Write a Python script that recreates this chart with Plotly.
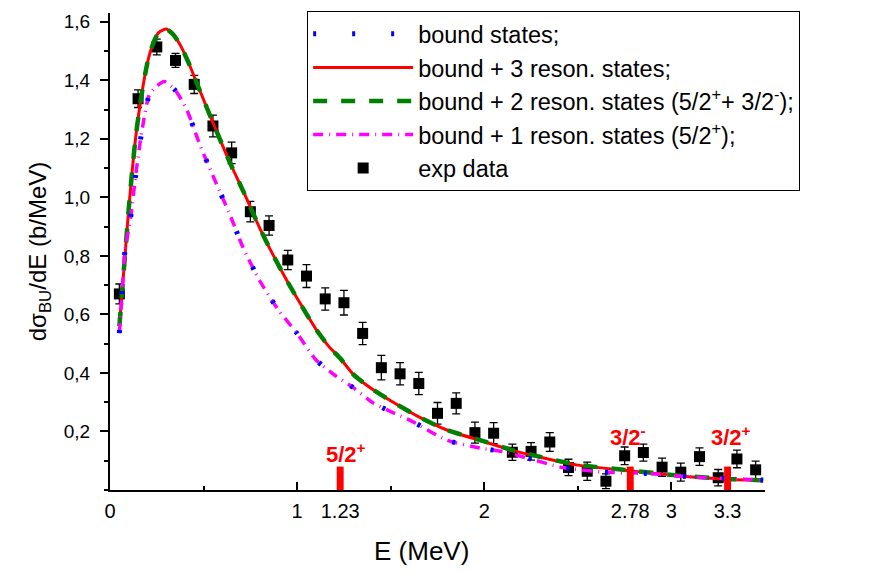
import plotly.graph_objects as go

# ---------------- data ----------------
exp_E = [0.05, 0.15, 0.25, 0.35, 0.45, 0.55, 0.65, 0.75, 0.85, 0.95,
         1.05, 1.15, 1.25, 1.35, 1.45, 1.55, 1.65, 1.75, 1.85, 1.95,
         2.05, 2.15, 2.25, 2.35, 2.45, 2.55, 2.65, 2.75, 2.85, 2.95,
         3.05, 3.15, 3.25, 3.35, 3.45]
exp_sigma = [0.670, 1.337, 1.514, 1.468, 1.386, 1.244, 1.152, 0.951, 0.904, 0.786,
             0.731, 0.653, 0.640, 0.535, 0.418, 0.397, 0.364, 0.262, 0.296, 0.196,
             0.194, 0.129, 0.132, 0.164, 0.077, 0.064, 0.030, 0.117, 0.128, 0.078,
             0.061, 0.114, 0.042, 0.106, 0.069]
exp_err = [0.034, 0.030, 0.027, 0.024, 0.031, 0.037, 0.037, 0.035, 0.033, 0.033,
           0.039, 0.038, 0.042, 0.038, 0.042, 0.038, 0.038, 0.037, 0.036, 0.036,
           0.036, 0.028, 0.030, 0.032, 0.028, 0.031, 0.025, 0.030, 0.029, 0.031,
           0.031, 0.030, 0.028, 0.030, 0.030]

res3_E = [0.055, 0.07, 0.085, 0.10, 0.12, 0.14, 0.17, 0.20, 0.23, 0.26, 0.30, 0.34,
          0.38, 0.42, 0.48, 0.56, 0.64, 0.72, 0.80, 0.87, 0.95, 1.00, 1.10, 1.17,
          1.23, 1.30, 1.40, 1.50, 1.65, 1.80, 2.00, 2.14, 2.30, 2.50, 2.76, 3.03,
          3.30, 3.49]
res3_sigma = [0.60, 0.72, 0.84, 0.96, 1.10, 1.22, 1.355, 1.46, 1.525, 1.563, 1.575, 1.555,
              1.515, 1.46, 1.365, 1.24, 1.12, 1.01, 0.895, 0.805, 0.71, 0.655, 0.55, 0.49,
              0.45, 0.395, 0.345, 0.305, 0.25, 0.205, 0.165, 0.137, 0.112, 0.085, 0.067, 0.049,
              0.037, 0.032]

res2_E = [0.05, 0.07, 0.085, 0.10, 0.12, 0.14, 0.17, 0.20, 0.23, 0.26, 0.30, 0.34,
          0.38, 0.42, 0.48, 0.56, 0.64, 0.72, 0.80, 0.87, 0.95, 1.00, 1.10, 1.17,
          1.23, 1.30, 1.40, 1.50, 1.65, 1.80, 2.00, 2.14, 2.30, 2.50, 2.76, 3.03,
          3.30, 3.49]
res2_sigma = [0.56, 0.72, 0.84, 0.96, 1.10, 1.22, 1.355, 1.46, 1.525, 1.563, 1.575, 1.555,
              1.515, 1.46, 1.365, 1.24, 1.12, 1.01, 0.895, 0.805, 0.71, 0.655, 0.55, 0.49,
              0.45, 0.395, 0.345, 0.305, 0.25, 0.205, 0.166, 0.138, 0.113, 0.086, 0.068, 0.050,
              0.038, 0.033]

res1_E = [0.05, 0.07, 0.08, 0.11, 0.14, 0.17, 0.21, 0.25, 0.29, 0.35, 0.41, 0.48,
          0.57, 0.64, 0.71, 0.80, 0.90, 1.00, 1.10, 1.20, 1.30, 1.40, 1.50, 1.62,
          1.80, 1.98, 2.10, 2.23, 2.41, 2.62, 2.85, 3.12, 3.39, 3.49]
res1_sigma = [0.536, 0.727, 0.817, 0.93, 1.089, 1.226, 1.35, 1.38, 1.396, 1.365, 1.30, 1.18,
              1.044, 0.942, 0.83, 0.715, 0.615, 0.535, 0.445, 0.393, 0.35, 0.30, 0.268, 0.233,
              0.17, 0.143, 0.131, 0.109, 0.078, 0.062, 0.057, 0.044, 0.037, 0.034]

bound_E = [0.05, 0.07, 0.08, 0.11, 0.14, 0.17, 0.21, 0.25, 0.29, 0.35, 0.41, 0.48,
           0.57, 0.64, 0.71, 0.80, 0.90, 1.00, 1.10, 1.20, 1.30, 1.40, 1.50, 1.62,
           1.80, 1.98, 2.10, 2.23, 2.41, 2.62, 2.85, 3.12, 3.39, 3.49]
bound_sigma = [0.536, 0.727, 0.817, 0.93, 1.089, 1.226, 1.35, 1.38, 1.396, 1.365, 1.30, 1.18,
               1.044, 0.942, 0.83, 0.715, 0.615, 0.535, 0.445, 0.393, 0.35, 0.30, 0.268, 0.233,
               0.17, 0.143, 0.131, 0.109, 0.078, 0.062, 0.057, 0.044, 0.037, 0.034]

res_E = [1.23, 2.78, 3.3]
res_height = [0.08, 0.08, 0.08]
res_labels = ["5/2<sup>+</sup>", "3/2<sup>-</sup>", "3/2<sup>+</sup>"]

x_label_vals = [0, 1, 1.23, 2, 2.78, 3, 3.3]
x_label_text = ["0", "1", "1.23", "2", "2.78", "3", "3.3"]
x_major_ticks = [0, 1, 2, 3]
y_tick_vals = [0.2, 0.4, 0.6, 0.8, 1.0, 1.2, 1.4, 1.6]
y_tick_text = ["0,2", "0,4", "0,6", "0,8", "1,0", "1,2", "1,4", "1,6"]

FONT = "Liberation Sans, Arial, sans-serif"

fig = go.Figure()

fig.add_trace(go.Scatter(
    x=exp_E, y=exp_sigma, mode="markers", name="exp data", legendrank=5,
    legendgroup="e",
    marker=dict(symbol="square", size=11, color="black"),
    error_y=dict(type="data", array=exp_err, color="black", thickness=1.3, width=4),
))
fig.add_trace(go.Scatter(
    x=res3_E, y=res3_sigma, mode="lines", name="bound + 3 reson. states;", legendrank=2,
    legendgroup="r3",
    line=dict(color="#FF0000", width=3, shape="spline", smoothing=0.6),
))
fig.add_trace(go.Scatter(
    x=res2_E, y=res2_sigma, mode="lines",
    name="bound + 2 reson. states (5/2<sup>+</sup>+ 3/2<sup>-</sup>);", legendrank=3,
    legendgroup="r2",
    line=dict(color="#008000", width=4.5, dash="14px,14px", shape="spline", smoothing=0.6),
))
fig.add_trace(go.Scatter(
    x=res1_E, y=res1_sigma, mode="lines",
    name="bound + 1 reson. states (5/2<sup>+</sup>);", legendrank=4,
    legendgroup="r1",
    line=dict(color="#FF00FF", width=3.5, dash="10px,6px,1px,6px", shape="spline", smoothing=0.6),
))
fig.add_trace(go.Scatter(
    x=bound_E, y=bound_sigma, mode="lines", name="bound states;", legendrank=1,
    legendgroup="b",
    line=dict(color="#0000FF", width=5, dash="3px,36px", shape="spline", smoothing=0.6),
))
fig.add_trace(go.Bar(
    x=res_E, y=res_height, base=0, width=0.037, xaxis="x2",
    marker=dict(color="#FF0000", line=dict(width=0)), showlegend=False, hoverinfo="skip",
))

label_y = [0.128, 0.185, 0.185]
label_shift = [6, -2, 3]
for E, txt, yy, sh in zip(res_E, res_labels, label_y, label_shift):
    fig.add_annotation(x=E, y=yy, xref="x2", yref="y", text="<b>" + txt + "</b>",
                       showarrow=False, xshift=sh, yanchor="middle",
                       font=dict(family=FONT, size=22, color="#FF0000"))

fig.add_annotation(x=(421 - 110) / 655, y=-(551 - 490) / 479, xref="paper", yref="paper",
                   text="E (MeV)", showarrow=False, yanchor="middle", xanchor="center",
                   font=dict(family=FONT, size=26, color="black"))

fig.update_layout(
    width=876, height=573,
    margin=dict(l=110, r=111, t=11, b=83),
    plot_bgcolor="white", paper_bgcolor="white",
    font=dict(family=FONT, color="black"),
    barmode="overlay",
    xaxis=dict(range=[0, 3.5], showline=True, linecolor="black", linewidth=2,
               tickvals=x_major_ticks, ticks="inside", ticklen=8, tickwidth=2,
               tickcolor="black", showticklabels=False, showgrid=False, zeroline=False,
               minor=dict(dtick=0.5, ticks="inside", ticklen=4, tickwidth=2, tickcolor="black")),
    xaxis2=dict(range=[0, 3.5], overlaying="x", anchor="y", side="bottom",
                tickvals=x_label_vals, ticktext=x_label_text, ticks="",
                showline=False, showgrid=False, zeroline=False,
                tickfont=dict(family=FONT, size=20, color="black"), ticklabelstandoff=7),
    yaxis=dict(range=[0, 1.63], showline=True, linecolor="black", linewidth=2,
               tickvals=y_tick_vals, ticktext=y_tick_text, ticks="outside", ticklen=8,
               tickwidth=2, tickcolor="black", showgrid=False, zeroline=False,
               tickfont=dict(family=FONT, size=19, color="black"), ticklabelstandoff=6,
               minor=dict(dtick=0.1, ticks="outside", ticklen=4, tickwidth=2, tickcolor="black"),
               title=dict(text="d\u03c3<sub>BU</sub>/dE (b/MeV)",
                          font=dict(family=FONT, size=24, color="black"), standoff=10)),
    legend=dict(x=0.301, y=1.004, xanchor="left", yanchor="top",
                bordercolor="black", borderwidth=1, bgcolor="white",
                font=dict(family=FONT, size=23.5, color="black"),
                itemwidth=100, tracegroupgap=0, traceorder="grouped"),
    showlegend=True,
)

fig.write_html("out.html")
